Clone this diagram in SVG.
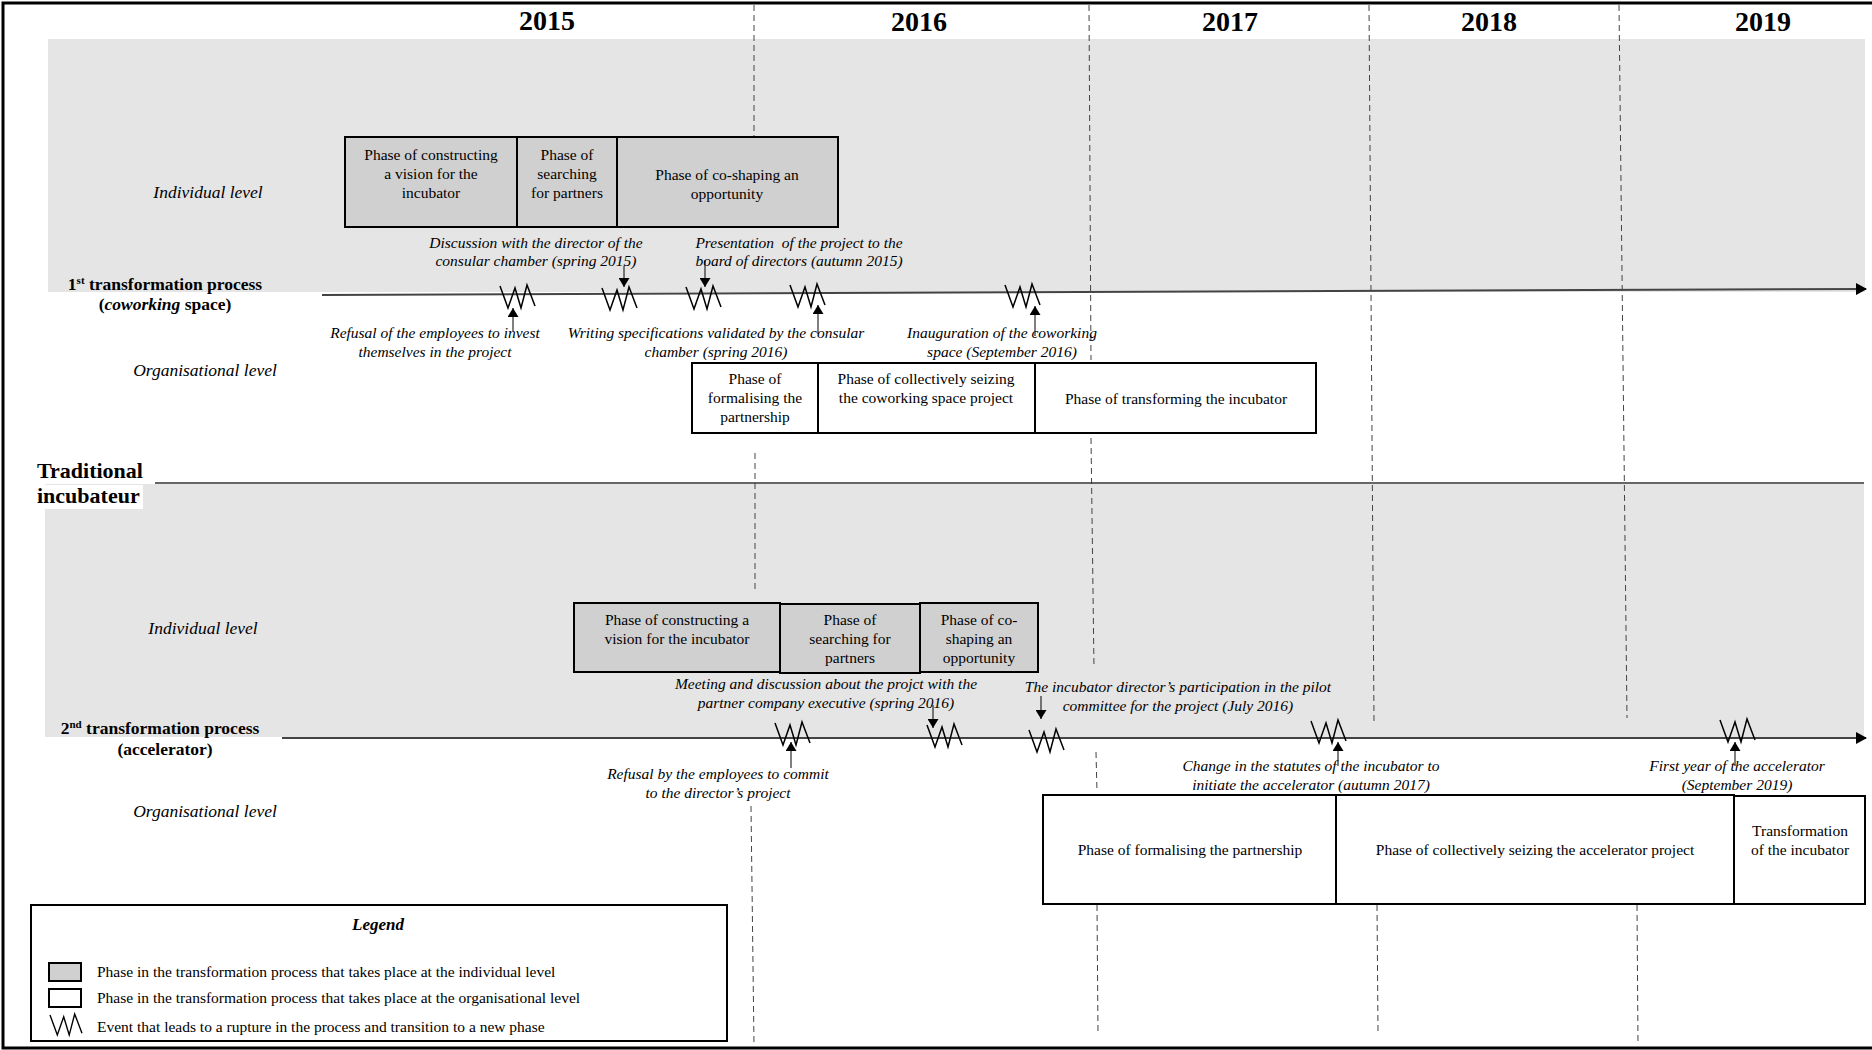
<svg xmlns="http://www.w3.org/2000/svg" xmlns:xlink="http://www.w3.org/1999/xlink" width="1872" height="1050" viewBox="0 0 1872 1050">
<style>
  text { font-family: "Liberation Serif", "Times New Roman", serif; fill: #000; }
  .year { font-size: 28px; font-weight: bold; text-anchor: middle; }
  .box { font-size: 15.5px; text-anchor: middle; }
  .ev { font-size: 15.5px; font-style: italic; text-anchor: middle; }
  .lvl { font-size: 17.5px; font-style: italic; text-anchor: middle; }
  .proc { font-size: 17.5px; font-weight: bold; text-anchor: middle; }
  .trad { font-size: 22px; font-weight: bold; }
  .leg { font-size: 15.5px; }
  .legt { font-size: 17px; font-weight: bold; font-style: italic; text-anchor: middle; }
  .ind { fill: #d0d0d0; stroke: #000; stroke-width: 2; }
  .org { fill: #fff; stroke: #000; stroke-width: 2; }
  .band { fill: #e5e5e5; }
  .dash { stroke: #444; stroke-width: 1; stroke-dasharray: 6 4; fill: none; }
  .axis { stroke: #444; stroke-width: 2; fill: none; }
  .ptr { stroke: #000; stroke-width: 1; fill: none; }
  .zz { stroke: #000; stroke-width: 1.5; fill: none; stroke-linejoin: miter; }
</style>
<defs>
  <marker id="ah" markerWidth="9" markerHeight="11" refX="9" refY="5.5" orient="auto" markerUnits="userSpaceOnUse">
    <path d="M0,0 L9,5.5 L0,11 Z" fill="#000"/>
  </marker>
  <marker id="axh" markerWidth="12" markerHeight="12" refX="10" refY="6" orient="auto" markerUnits="userSpaceOnUse">
    <path d="M0,0 L11,6 L0,12 Z" fill="#000"/>
  </marker>
  <symbol id="zz" viewBox="0 0 35 24" width="35" height="24" overflow="visible">
    <polyline class="zz" points="0,1 8,23 15,3 21,23 27,0 35,21"/>
  </symbol>
</defs>

<rect x="0" y="0" width="1872" height="1050" fill="#fff"/>
<g id="frame">
  <path d="M1872,3 L3,3 L3,1048 L1872,1048" fill="none" stroke="#000" stroke-width="3"/>
</g>

<g id="bands">
  <rect class="band" x="48" y="39" width="1817" height="253"/>
  <rect class="band" x="45" y="484" width="1819" height="253"/>
  <rect x="35" y="485" width="108" height="24" fill="#fff"/>
</g>

<g id="years">
  <text class="year" x="547" y="30">2015</text>
  <text class="year" x="919" y="31">2016</text>
  <text class="year" x="1230" y="31">2017</text>
  <text class="year" x="1489" y="31">2018</text>
  <text class="year" x="1763" y="31">2019</text>
</g>

<g id="year-dividers">
  <line class="dash" x1="754" y1="5" x2="754" y2="137"/>
  <line class="dash" x1="755" y1="453" x2="755" y2="592"/>
  <line class="dash" x1="751" y1="806" x2="754" y2="1045"/>
  <line class="dash" x1="1089" y1="5" x2="1091" y2="360"/>
  <line class="dash" x1="1091" y1="438" x2="1094" y2="668"/>
  <line class="dash" x1="1096" y1="752" x2="1097" y2="792"/>
  <line class="dash" x1="1097" y1="905" x2="1098" y2="1035"/>
  <line class="dash" x1="1369" y1="5" x2="1374" y2="722"/>
  <line class="dash" x1="1377" y1="905" x2="1378" y2="1033"/>
  <line class="dash" x1="1619" y1="5" x2="1627" y2="718"/>
  <line class="dash" x1="1637" y1="905" x2="1638" y2="1045"/>
</g>

<g id="labels">
  <g id="traditional">
    <text class="trad" x="37" y="478">Traditional</text>
    <text class="trad" x="37" y="503">incubateur</text>
  </g>
  <text id="lvl-ind-1" class="lvl" x="208" y="198">Individual level</text>
  <text id="lvl-org-1" class="lvl" x="205" y="376">Organisational level</text>
  <text id="lvl-ind-2" class="lvl" x="203" y="634">Individual level</text>
  <text id="lvl-org-2" class="lvl" x="205" y="817">Organisational level</text>
  <g id="proc-1">
    <text class="proc" x="165" y="290">1<tspan font-size="11" dy="-6">st</tspan><tspan dy="6"> transformation process</tspan></text>
    <text class="proc" x="165" y="310">(<tspan font-style="italic">coworking</tspan> space)</text>
  </g>
  <g id="proc-2">
    <text class="proc" x="160" y="734">2<tspan font-size="11" dy="-6">nd</tspan><tspan dy="6"> transformation process</tspan></text>
    <text class="proc" x="165" y="755">(accelerator)</text>
  </g>
</g>

<g id="connectors">
  <line id="axis-1" class="axis" x1="322" y1="295" x2="1866" y2="289" marker-end="url(#axh)"/>
  <line id="axis-2" class="axis" x1="282" y1="738" x2="1866" y2="738" marker-end="url(#axh)"/>
  <line id="separator" x1="155" y1="483" x2="1864" y2="483" stroke="#333" stroke-width="1.5"/>
  <line class="ptr" x1="513" y1="331" x2="513" y2="308" marker-end="url(#ah)"/>
  <line class="ptr" x1="624" y1="266" x2="624" y2="287" marker-end="url(#ah)"/>
  <line class="ptr" x1="705" y1="260" x2="705" y2="287" marker-end="url(#ah)"/>
  <line class="ptr" x1="818" y1="334" x2="818" y2="305" marker-end="url(#ah)"/>
  <line class="ptr" x1="1035" y1="336" x2="1035" y2="306" marker-end="url(#ah)"/>
  <line class="ptr" x1="791" y1="768" x2="791" y2="742" marker-end="url(#ah)"/>
  <line class="ptr" x1="933" y1="705" x2="933" y2="728" marker-end="url(#ah)"/>
  <line class="ptr" x1="1041" y1="696" x2="1041" y2="719" marker-end="url(#ah)"/>
  <line class="ptr" x1="1338" y1="766" x2="1338" y2="742" marker-end="url(#ah)"/>
  <line class="ptr" x1="1735" y1="766" x2="1735" y2="742" marker-end="url(#ah)"/>
</g>

<g id="events">
  <use href="#zz" x="500" y="285"/>
  <use href="#zz" x="602" y="287"/>
  <use href="#zz" x="686" y="286"/>
  <use href="#zz" x="790" y="284"/>
  <use href="#zz" x="1005" y="284"/>
  <use href="#zz" x="775" y="722"/>
  <use href="#zz" x="927" y="724"/>
  <use href="#zz" x="1029" y="729"/>
  <use href="#zz" x="1311" y="720"/>
  <use href="#zz" x="1720" y="719"/>
</g>

<g id="event-labels">
  <text class="ev" x="536" y="248">Discussion with the director of the</text>
  <text class="ev" x="536" y="266">consular chamber (spring 2015)</text>
  <text class="ev" x="799" y="248" xml:space="preserve">Presentation  of the project to the</text>
  <text class="ev" x="799" y="266">board of directors (autumn 2015)</text>
  <text class="ev" x="435" y="338">Refusal of the employees to invest</text>
  <text class="ev" x="435" y="357">themselves in the project</text>
  <text class="ev" x="716" y="338">Writing specifications validated by the consular</text>
  <text class="ev" x="716" y="357">chamber (spring 2016)</text>
  <text class="ev" x="1002" y="338">Inauguration of the coworking</text>
  <text class="ev" x="1002" y="357">space (September 2016)</text>
  <text class="ev" x="826" y="689">Meeting and discussion about the projct with the</text>
  <text class="ev" x="826" y="708">partner company executive (spring 2016)</text>
  <text class="ev" x="1178" y="692">The incubator director’s participation in the pilot</text>
  <text class="ev" x="1178" y="711">committee for the project (July 2016)</text>
  <text class="ev" x="718" y="779">Refusal by the employees to commit</text>
  <text class="ev" x="718" y="798">to the director’s project</text>
  <text class="ev" x="1311" y="771">Change in the statutes of the incubator to</text>
  <text class="ev" x="1311" y="790">initiate the accelerator (autumn 2017)</text>
  <text class="ev" x="1737" y="771">First year of the accelerator</text>
  <text class="ev" x="1737" y="790">(September 2019)</text>
</g>

<g id="ind-1">
  <g id="ind-1-a">
    <rect class="ind" x="345" y="137" width="172" height="90"/>
    <text class="box" x="431" y="160">Phase of constructing</text>
    <text class="box" x="431" y="179">a vision for the</text>
    <text class="box" x="431" y="198">incubator</text>
  </g>
  <g id="ind-1-b">
    <rect class="ind" x="517" y="137" width="100" height="90"/>
    <text class="box" x="567" y="160">Phase of</text>
    <text class="box" x="567" y="179">searching</text>
    <text class="box" x="567" y="198">for partners</text>
  </g>
  <g id="ind-1-c">
    <rect class="ind" x="617" y="137" width="221" height="90"/>
    <text class="box" x="727" y="180">Phase of co-shaping an</text>
    <text class="box" x="727" y="199">opportunity</text>
  </g>
</g>

<g id="org-1">
  <g id="org-1-a">
    <rect class="org" x="692" y="363" width="126" height="70"/>
    <text class="box" x="755" y="384">Phase of</text>
    <text class="box" x="755" y="403">formalising the</text>
    <text class="box" x="755" y="422">partnership</text>
  </g>
  <g id="org-1-b">
    <rect class="org" x="818" y="363" width="217" height="70"/>
    <text class="box" x="926" y="384">Phase of collectively seizing</text>
    <text class="box" x="926" y="403">the coworking space project</text>
  </g>
  <g id="org-1-c">
    <rect class="org" x="1035" y="363" width="281" height="70"/>
    <text class="box" x="1176" y="404">Phase of transforming the incubator</text>
  </g>
</g>

<g id="ind-2">
  <g id="ind-2-a">
    <rect class="ind" x="574" y="603" width="206" height="69"/>
    <text class="box" x="677" y="625">Phase of constructing a</text>
    <text class="box" x="677" y="644">vision for the incubator</text>
  </g>
  <g id="ind-2-b">
    <rect class="ind" x="780" y="604" width="140" height="69"/>
    <text class="box" x="850" y="625">Phase of</text>
    <text class="box" x="850" y="644">searching for</text>
    <text class="box" x="850" y="663">partners</text>
  </g>
  <g id="ind-2-c">
    <rect class="ind" x="920" y="603" width="118" height="69"/>
    <text class="box" x="979" y="625">Phase of co-</text>
    <text class="box" x="979" y="644">shaping an</text>
    <text class="box" x="979" y="663">opportunity</text>
  </g>
</g>

<g id="org-2">
  <g id="org-2-a">
    <rect class="org" x="1043" y="795" width="293" height="109"/>
    <text class="box" x="1190" y="855">Phase of formalising the partnership</text>
  </g>
  <g id="org-2-b">
    <rect class="org" x="1336" y="795" width="398" height="109"/>
    <text class="box" x="1535" y="855">Phase of collectively seizing the accelerator project</text>
  </g>
  <g id="org-2-c">
    <rect class="org" x="1734" y="796" width="131" height="108"/>
    <text class="box" x="1800" y="836">Transformation</text>
    <text class="box" x="1800" y="855">of the incubator</text>
  </g>
</g>

<g id="legend">
  <rect x="31" y="905" width="696" height="136" fill="#fff" stroke="#000" stroke-width="2"/>
  <text class="legt" x="378" y="930">Legend</text>
  <rect class="ind" x="49" y="963" width="32" height="18"/>
  <text class="leg" x="97" y="977">Phase in the transformation process that takes place at the individual level</text>
  <rect class="org" x="49" y="989" width="32" height="18"/>
  <text class="leg" x="97" y="1003">Phase in the transformation process that takes place at the organisational level</text>
  <use href="#zz" x="50" y="1013" width="32" height="24"/>
  <text class="leg" x="97" y="1032">Event that leads to a rupture in the process and transition to a new phase</text>
</g>
</svg>
